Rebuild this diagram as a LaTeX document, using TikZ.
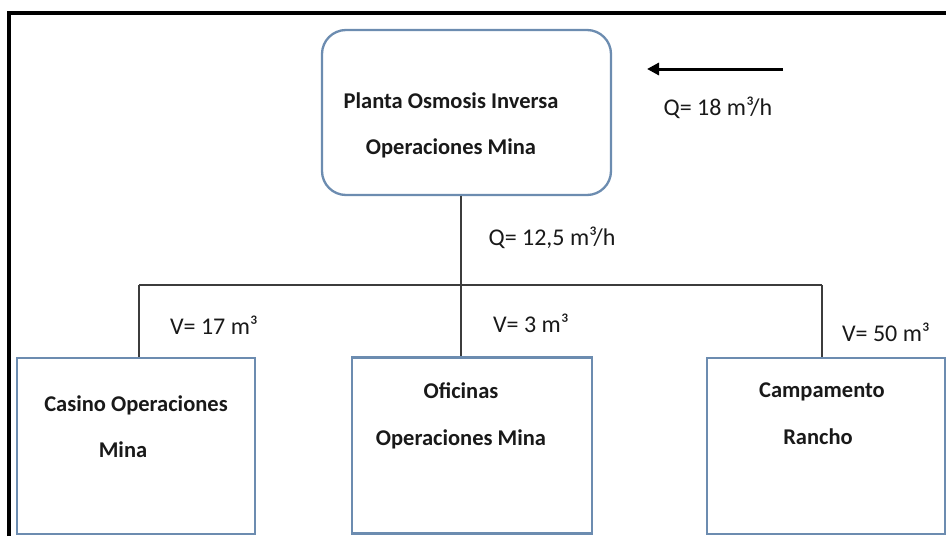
\documentclass[tikz,border=0pt]{standalone}
\usepackage{fontspec}
\setmainfont{Carlito}
\usetikzlibrary{arrows.meta}
\definecolor{boxline}{RGB}{108,140,176}
\definecolor{pipe}{RGB}{60,60,60}
\definecolor{ink}{RGB}{25,25,25}
\tikzset{
  unit/.style={draw=boxline, line width=2.3pt, fill=white, inner sep=0pt},
  plantbox/.style={unit, rounded corners=24pt, minimum width=289pt, minimum height=165pt},
  sitebox/.style={unit, minimum width=238pt, minimum height=176pt},
  title/.style={text=ink, font=\fontsize{22.5}{27}\selectfont\bfseries, inner sep=0pt},
  flowlabel/.style={text=ink, font=\fontsize{24}{28}\selectfont, inner sep=0pt},
  pipeline/.style={draw=pipe, line width=2pt},
  feed/.style={draw=black, line width=3pt, -{Triangle[length=12pt,width=12pt]}}
}
\begin{document}
\begin{tikzpicture}[x=1pt,y=-1pt]
\useasboundingbox (0,0) rectangle (946,536);

% outer frame (top and left edges)
\draw[line width=4pt] (9,536) -- (9,13) -- (946,13);

% treatment plant and the three consumers
\node[plantbox] (plant) at (466.5,112.5) {};
\node[sitebox] (casino) at (136,446) {};
\node[sitebox, minimum width=240pt] (oficinas) at (472,445.5) {};
\node[sitebox] (campamento) at (826,446) {};

% box titles
\node[title] (plantA) at (451,101) {Planta Osmosis Inversa};
\node[title] (plantB) at (451,148) {Operaciones Mina};
\node[title] (casinoA) at (136,405) {Casino Operaciones};
\node[title] (casinoB) at (123,450) {Mina};
\node[title] (oficA) at (461,391) {Oficinas};
\node[title] (oficB) at (461,439) {Operaciones Mina};
\node[title] (campA) at (822,392) {Campamento};
\node[title] (campB) at (818,437) {Rancho};

% distribution header
\coordinate (hub) at (461,285);
\coordinate (jl) at (139,285);
\coordinate (jr) at (822,285);
\draw[pipeline] (plant.south -| hub) -- (hub);
\draw[pipeline] (jl) -- (jr);
\draw[pipeline] (jl) -- (jl |- casino.north);
\draw[pipeline] (hub) -- (hub |- oficinas.north);
\draw[pipeline] (jr) -- (jr |- campamento.north);

% feed water into the plant
\coordinate (feedin) at (783,69);
\coordinate (feedout) at (647,69);
\draw[feed] (feedin) -- (feedout);

% flow and volume labels
\node[flowlabel] (qin) at (718,108) {Q= 18 m³/h};
\node[flowlabel] (qout) at (552,238) {Q= 12,5 m³/h};
\node[flowlabel] (v1) at (214,325) {V= 17 m³};
\node[flowlabel] (v2) at (531,323) {V= 3 m³};
\node[flowlabel] (v3) at (886,332) {V= 50 m³};
\end{tikzpicture}
\end{document}
